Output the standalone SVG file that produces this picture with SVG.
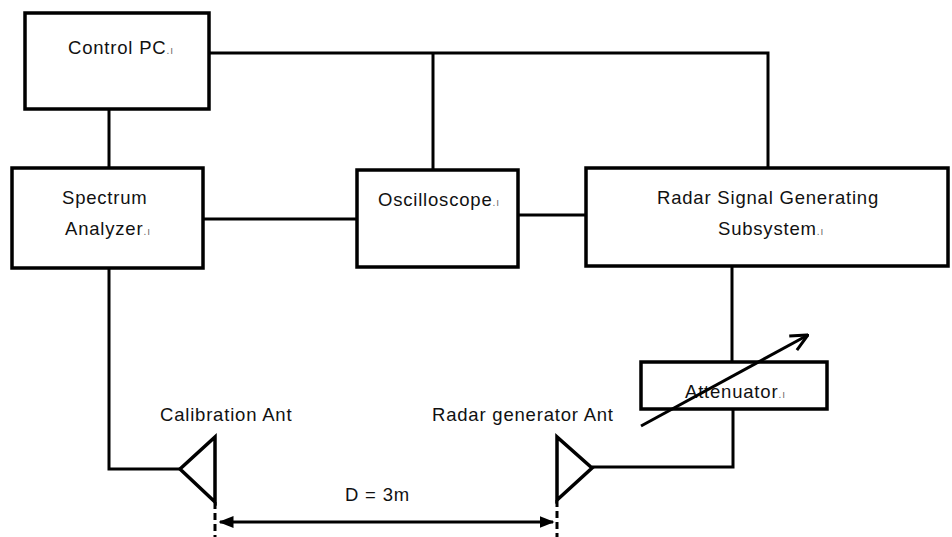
<svg xmlns="http://www.w3.org/2000/svg" width="952" height="537" viewBox="0 0 952 537">
<style>
.box{fill:#fff;stroke:#000;stroke-width:3.5}
.ln{fill:none;stroke:#000;stroke-width:3}
.t{font-family:"Liberation Sans",Arial,sans-serif;font-size:18.5px;letter-spacing:0.8px;fill:#111}
.pm{font-size:10px;fill:#666;letter-spacing:1px}
</style>
<defs>
<marker id="fa" viewBox="0 0 10 10" refX="9" refY="5" markerWidth="5" markerHeight="5" orient="auto-start-reverse" markerUnits="strokeWidth">
<path d="M0,1 L10,5 L0,9 z" fill="#000"/>
</marker>
<marker id="oa" viewBox="0 0 20 20" refX="19" refY="10" markerWidth="20" markerHeight="20" orient="auto" markerUnits="userSpaceOnUse">
<path d="M2,2 L19,10 L2,18" fill="none" stroke="#000" stroke-width="3"/>
</marker>
</defs>
<rect width="952" height="537" fill="#fff"/>
<g id="connectors">
<polyline class="ln" points="209,53 768,53 768,168"/>
<line class="ln" x1="433" y1="53" x2="433" y2="170"/>
<line class="ln" x1="109" y1="109" x2="109" y2="168"/>
<line class="ln" x1="203" y1="219" x2="357" y2="219"/>
<line class="ln" x1="518" y1="215" x2="586" y2="215"/>
<line class="ln" x1="732" y1="266" x2="732" y2="362"/>
<polyline class="ln" points="109,268 109,469 180,469"/>
<polyline class="ln" points="733,409 733,467 592,467"/>
<line x1="215" y1="502" x2="215" y2="537" stroke="#000" stroke-width="3" stroke-dasharray="7,4"/>
<line x1="557" y1="500" x2="557" y2="537" stroke="#000" stroke-width="3" stroke-dasharray="7,4"/>
<line x1="220" y1="522" x2="553" y2="522" stroke="#000" stroke-width="3" marker-start="url(#fa)" marker-end="url(#fa)"/>
<text class="t" x="345" y="501">D = 3m</text>
</g>
<g id="control-pc">
<rect class="box" x="25" y="13" width="184" height="96"/>
<text class="t" x="68" y="54">Control PC<tspan class="pm">.ı</tspan></text>
</g>
<g id="spectrum-analyzer">
<rect class="box" x="12" y="168" width="191" height="100"/>
<text class="t" x="62" y="204">Spectrum</text>
<text class="t" x="65" y="235">Analyzer<tspan class="pm">.ı</tspan></text>
</g>
<g id="oscilloscope">
<rect class="box" x="357" y="170" width="161" height="97"/>
<text class="t" x="378" y="206">Oscilloscope<tspan class="pm">.ı</tspan></text>
</g>
<g id="radar-subsystem">
<rect class="box" x="586" y="168" width="362" height="98"/>
<text class="t" x="657" y="204">Radar Signal Generating</text>
<text class="t" x="718" y="235">Subsystem<tspan class="pm">.ı</tspan></text>
</g>
<g id="attenuator">
<rect class="box" x="641" y="362" width="186" height="47"/>
<text class="t" x="685" y="398">Attenuator<tspan class="pm">.ı</tspan></text>
<line class="ln" x1="641" y1="426" x2="808" y2="335" marker-end="url(#oa)"/>
</g>
<g id="calibration-ant">
<polygon points="215,437 215,502 180,469" fill="none" stroke="#000" stroke-width="3.5"/>
<text class="t" x="160" y="421">Calibration Ant</text>
</g>
<g id="radar-generator-ant">
<polygon points="557,437 557,500 592,468" fill="none" stroke="#000" stroke-width="3.5"/>
<text class="t" x="432" y="421">Radar generator Ant</text>
</g>
</svg>
